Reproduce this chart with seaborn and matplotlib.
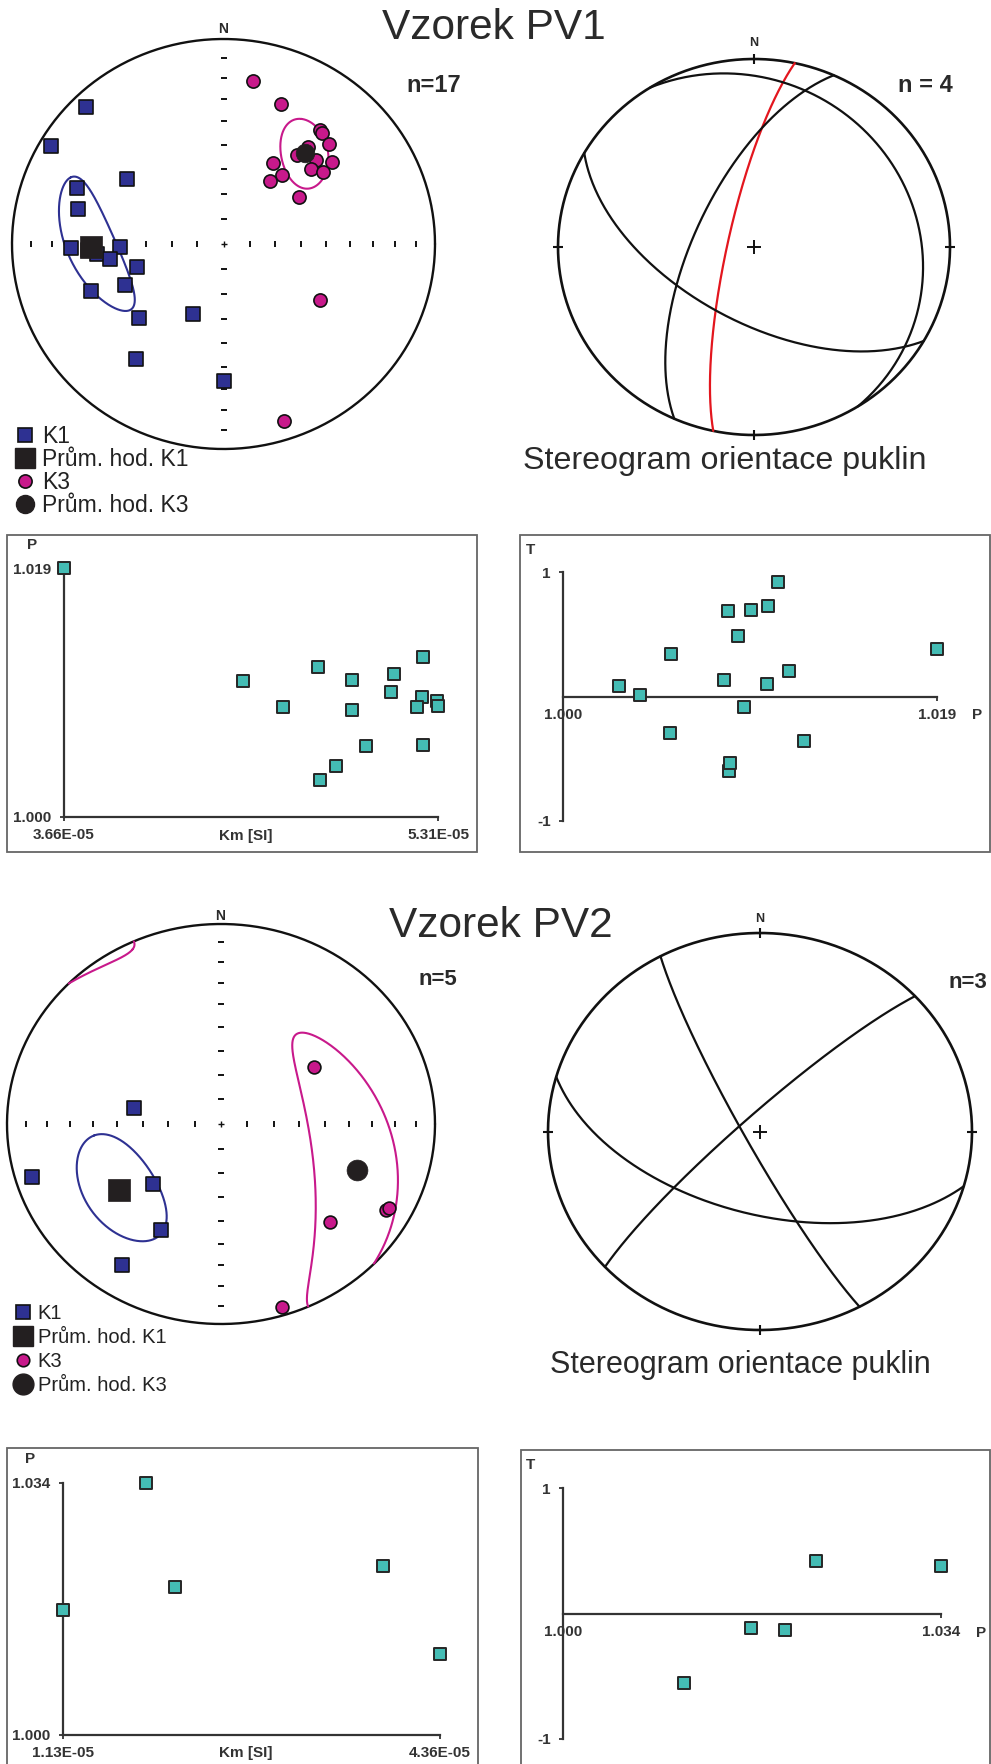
import numpy as np
import pandas as pd
import matplotlib
matplotlib.use("Agg")
import matplotlib.pyplot as plt
from matplotlib.lines import Line2D
from matplotlib.patches import Rectangle
import seaborn as sns

sns.set_theme(style="white")
plt.rcParams["font.family"] = ["Liberation Sans", "DejaVu Sans"]

W, H = 991, 1764

# ---------------------------------------------------------------- data
# Sample PV1 - AMS principal axes of the specimens (trend, plunge in degrees)
pv1_k1_trend = [315.8, 300.4, 304.9, 291.5, 284.0, 268.4, 268.2, 265.3, 262.2,
                254.6, 246.7, 249.9, 227.8, 202.6, 216.3, 179.6, 267.3]
pv1_k1_plunge = [7.6, 6.2, 43.8, 26.6, 30.0, 28.8, 49.6, 39.8, 45.0,
                 55.2, 48.2, 33.8, 45.4, 59.6, 31.0, 33.6, 36.2]
pv1_k3_trend = [10.1, 21.6, 39.3, 40.6, 45.6, 40.1, 38.9, 46.8, 52.0,
                48.4, 53.2, 30.4, 39.2, 35.4, 57.2, 121.0, 161.8]
pv1_k3_plunge = [20.4, 27.4, 29.0, 29.4, 31.0, 38.2, 43.6, 40.0, 35.2,
                 44.2, 41.0, 52.2, 54.2, 59.0, 55.2, 45.8, 10.0]
pv1_k1_mean = (268.6, 37.4)
pv1_k3_mean = (40.9, 41.0)
# confidence cones: (long semi-angle, short semi-angle, orientation of long axis)
pv1_k1_cone = (27, 10, 28)
pv1_k3_cone = (14, 9, 128)

# Sample PV1 - scalar anisotropy parameters of the specimens
pv1_km = [3.660e-5, 4.448e-5, 4.624e-5, 4.781e-5, 4.932e-5, 4.931e-5, 5.116e-5,
          5.104e-5, 5.244e-5, 5.239e-5, 5.217e-5, 5.307e-5, 5.311e-5, 5.244e-5,
          4.991e-5, 4.862e-5, 4.788e-5]
pv1_p = [1.01900, 1.01034, 1.00837, 1.01146, 1.01042, 1.00816, 1.01093, 1.00954,
         1.01224, 1.00918, 1.00843, 1.00888, 1.00850, 1.00547, 1.00543, 1.00389,
         1.00284]
pv1_t = [0.383, 0.101, 0.689, 0.203, 0.723, 0.133, 0.919, 0.694, -0.356, -0.082,
         -0.597, 0.487, -0.538, 0.345, -0.297, 0.009, 0.085]

# Sample PV1 - joint planes (dip direction, dip)
pv1_joint_dipdir = [282, 58, 210, 294]
pv1_joint_dip = [79, 18, 58, 65]

# Sample PV2 - AMS principal axes
pv2_k1_trend = [281.1, 253.3, 226.7, 207.9, 213.3]
pv2_k1_plunge = [55.8, 8.6, 54.0, 39.8, 16.8]
pv2_k3_trend = [56.8, 119.2, 118.1, 133.9, 162.7]
pv2_k3_plunge = [46.8, 12.8, 12.0, 30.0, 4.7]
pv2_k1_mean = (235.3, 41.6)
pv2_k3_mean = (109.9, 32.8)
pv2_k1_cone = (22, 15, -6)
pv2_k3_cone = (56, 17, 32)

# Sample PV2 - scalar anisotropy parameters
pv2_km = [1.13e-5, 1.84e-5, 2.09e-5, 3.87e-5, 4.36e-5]
pv2_p = [1.0169, 1.0340, 1.0200, 1.0228, 1.0109]
pv2_t = [-0.116, 0.381, -0.129, 0.421, -0.556]

# Sample PV2 - joint planes
pv2_joint_dipdir = [242, 196, 317]
pv2_joint_dip = [84, 56, 83]

# ---------------------------------------------------------------- style
BLUE = "#2E3192"
MAG = "#C8198B"
MEAN = "#231F20"
INK = "#111111"
RED = "#E3161E"
TEAL = "#44BCB4"
AXC = "#333333"
TXT = "#2a2a2a"

fig = plt.figure(figsize=(W / 100, H / 100), dpi=100)


def box(x0, y0, x1, y1):
    return [x0 / W, 1 - y1 / H, (x1 - x0) / W, (y1 - y0) / H]


def ftext(x, y, s, **kw):
    fig.text(x / W, 1 - y / H, s, **kw)


def frame(x0, y0, x1, y1):
    fig.add_artist(Rectangle((x0 / W, 1 - y1 / H), (x1 - x0) / W, (y1 - y0) / H,
                             transform=fig.transFigure, fill=False,
                             ec="#666666", lw=1.3))


# ---------------------------------------------------------------- projection
def eq_area(trend, plunge):
    t = np.radians(np.asarray(trend, float))
    r = np.sqrt(2) * np.sin(np.radians(90 - np.asarray(plunge, float)) / 2)
    return r * np.sin(t), r * np.cos(t)


def project(v):
    v = np.where(v[:, 2:3] > 0, -v, v)          # lower hemisphere
    h = np.hypot(v[:, 0], v[:, 1])
    h = np.where(h == 0, 1, h)
    r = np.sqrt(np.clip(1 + v[:, 2], 0, None))
    return r * v[:, 0] / h, r * v[:, 1] / h


def great_circle(dipdir, dip, n=241):
    D, d = np.radians(dipdir), np.radians(dip)
    s = np.array([np.sin(D - np.pi / 2), np.cos(D - np.pi / 2), 0.0])
    dv = np.array([np.cos(d) * np.sin(D), np.cos(d) * np.cos(D), -np.sin(d)])
    t = np.linspace(0, np.pi, n)[:, None]
    return project(np.cos(t) * s + np.sin(t) * dv)


def cone(mean, spec, n=721):
    T, P = np.radians(mean[0]), np.radians(mean[1])
    a, b, w = np.radians(spec[0]), np.radians(spec[1]), np.radians(spec[2])
    v = np.array([np.cos(P) * np.sin(T), np.cos(P) * np.cos(T), -np.sin(P)])
    ut = np.array([np.cos(T), -np.sin(T), 0.0])
    ur = np.array([np.sin(P) * np.sin(T), np.sin(P) * np.cos(T), np.cos(P)])
    e1 = np.cos(w) * ut + np.sin(w) * ur
    e2 = -np.sin(w) * ut + np.cos(w) * ur
    phi = np.linspace(0, 2 * np.pi, n)[:, None]
    pts = v + np.tan(a) * np.cos(phi) * e1 + np.tan(b) * np.sin(phi) * e2
    pts /= np.linalg.norm(pts, axis=1, keepdims=True)
    x, y = project(pts)
    cut = np.where(np.hypot(np.diff(x), np.diff(y)) > 0.4)[0] + 1
    return np.insert(x, cut, np.nan), np.insert(y, cut, np.nan)


# ---------------------------------------------------------------- panels
def ams_net(rect, k1t, k1p, k3t, k3p, k1m, k3m, k1c, k3c, sizes):
    ax = fig.add_axes(box(*rect))
    ax.set_xlim(-1, 1)
    ax.set_ylim(-1, 1)
    ax.axis("off")
    th = np.linspace(0, 2 * np.pi, 500)
    ax.plot(np.cos(th), np.sin(th), color=INK, lw=1.7, clip_on=False)
    rr = np.sqrt(2) * np.sin(np.radians(90 - np.arange(10, 90, 10)) / 2)
    z = np.zeros(2 * len(rr))
    ax.plot(np.r_[-rr, rr], z, ls="none", marker="|", ms=4, mew=1.4, color=INK)
    ax.plot(z, np.r_[-rr, rr], ls="none", marker="_", ms=4, mew=1.4, color=INK)
    ax.plot(0, 0, marker="+", ms=4, mew=1.0, color=INK)

    # confidence cones sit beneath the symbols
    cx, cy = cone(k1m, k1c)
    ax.plot(cx, cy, color=BLUE, lw=1.5, zorder=2.5, clip_on=False)
    cx, cy = cone(k3m, k3c)
    ax.plot(cx, cy, color=MAG, lw=1.5, zorder=2.5, clip_on=False)

    x, y = eq_area(k1t, k1p)
    sns.scatterplot(data=pd.DataFrame({"x": x, "y": y}), x="x", y="y", marker="s",
                    s=sizes[0], color=BLUE, edgecolor=INK, linewidth=1.2, ax=ax,
                    zorder=3, legend=False, clip_on=False)
    x, y = eq_area([k1m[0]], [k1m[1]])
    sns.scatterplot(x=x, y=y, marker="s", s=sizes[1], color=MEAN, edgecolor=MEAN,
                    linewidth=0.5, ax=ax, zorder=4, legend=False)
    x, y = eq_area(k3t, k3p)
    sns.scatterplot(data=pd.DataFrame({"x": x, "y": y}), x="x", y="y", marker="o",
                    s=sizes[2], color=MAG, edgecolor=INK, linewidth=1.2, ax=ax,
                    zorder=3, legend=False, clip_on=False)
    x, y = eq_area([k3m[0]], [k3m[1]])
    sns.scatterplot(x=x, y=y, marker="o", s=sizes[3], color=MEAN, edgecolor=MEAN,
                    linewidth=0.5, ax=ax, zorder=4, legend=False)
    ax.set_xlabel("")
    ax.set_ylabel("")
    return ax


def joint_net(rect, dipdir, dip, colors):
    ax = fig.add_axes(box(*rect))
    ax.set_xlim(-1, 1)
    ax.set_ylim(-1, 1)
    ax.axis("off")
    th = np.linspace(0, 2 * np.pi, 500)
    ax.plot(np.cos(th), np.sin(th), color=INK, lw=1.9, clip_on=False)
    for dd, dp, c in zip(dipdir, dip, colors):
        x, y = great_circle(dd, dp)
        ax.plot(x, y, color=c, lw=1.6, clip_on=False)
    ax.plot([0, 0], [1, -1], ls="none", marker="|", ms=7, mew=1.5, color=INK,
            clip_on=False)
    ax.plot([1, -1], [0, 0], ls="none", marker="_", ms=7, mew=1.5, color=INK,
            clip_on=False)
    ax.plot(0, 0, marker="+", ms=10, mew=1.4, color=INK)
    return ax


def scatter_panel(rect, xs, ys, xlim, ylim, xt, xtl, yt, ytl, zero_axis=False):
    ax = fig.add_axes(box(*rect))
    ax.set_facecolor("none")
    sns.scatterplot(data=pd.DataFrame({"x": xs, "y": ys}), x="x", y="y", marker="s",
                    s=64, color=TEAL, edgecolor="#262626", linewidth=1.4, ax=ax,
                    zorder=5, legend=False, clip_on=False)
    ax.set_xlim(xlim)
    ax.set_ylim(ylim)
    ax.grid(False)
    for s in ("top", "right"):
        ax.spines[s].set_visible(False)
    for s in ("left", "bottom"):
        ax.spines[s].set_color(AXC)
        ax.spines[s].set_linewidth(1.6)
    if zero_axis:
        ax.spines["bottom"].set_position(("data", 0))
    ax.set_xticks(xt, xtl)
    ax.set_yticks(yt, ytl)
    ax.tick_params(axis="both", direction="out", length=3, width=1.3, color=AXC,
                   labelsize=11, labelcolor="#333333", bottom=True, left=True)
    ax.tick_params(axis="x", pad=5)
    ax.tick_params(axis="y", pad=6)
    for lab in ax.get_xticklabels() + ax.get_yticklabels():
        lab.set_fontweight("bold")
    ax.set_xlabel("")
    ax.set_ylabel("")
    return ax


def legend(x, y, fs, spacing, sizes):
    handles = [
        Line2D([], [], ls="none", marker="s", ms=sizes[0], mfc=BLUE, mec=INK, mew=1.2,
               label="K1"),
        Line2D([], [], ls="none", marker="s", ms=sizes[1], mfc=MEAN, mec=MEAN,
               label="Prům. hod. K1"),
        Line2D([], [], ls="none", marker="o", ms=sizes[2], mfc=MAG, mec=INK, mew=1.2,
               label="K3"),
        Line2D([], [], ls="none", marker="o", ms=sizes[3], mfc=MEAN, mec=MEAN,
               label="Prům. hod. K3"),
    ]
    leg = fig.legend(handles=handles, loc="upper left",
                     bbox_to_anchor=(x / W, 1 - y / H), frameon=False, fontsize=fs,
                     handlelength=0.8, handletextpad=0.33, labelspacing=spacing,
                     borderpad=0, borderaxespad=0)
    for t in leg.get_texts():
        t.set_color("#222222")


# ---------------------------------------------------------------- sample PV1
ftext(494, 28, "Vzorek PV1", ha="center", va="center", fontsize=30.5, color=TXT)

ams_net((12, 39, 435, 449), pv1_k1_trend, pv1_k1_plunge, pv1_k3_trend, pv1_k3_plunge,
        pv1_k1_mean, pv1_k3_mean, pv1_k1_cone, pv1_k3_cone, (100, 230, 90, 180))
ftext(223, 29, "N", ha="center", va="center", fontsize=10, fontweight="bold", color=TXT)
ftext(434, 86, "n=17", ha="center", va="center", fontsize=17, fontweight="bold", color=TXT)
legend(16, 425, 16.5, 0.0, (10, 15, 9.5, 13))

joint_net((558, 59, 950, 435), pv1_joint_dipdir, pv1_joint_dip,
          [RED, INK, INK, INK])
ftext(754, 43, "N", ha="center", va="center", fontsize=9, fontweight="bold", color=TXT)
ftext(925, 86, "n = 4", ha="center", va="center", fontsize=17, fontweight="bold", color=TXT)
ftext(725, 461, "Stereogram orientace puklin", ha="center", va="center", fontsize=23.2,
      color=TXT)

frame(7, 535, 477, 852)
scatter_panel((64, 568, 438, 817), pv1_km, pv1_p, (3.66e-5, 5.31e-5), (1.000, 1.019),
              [3.66e-5, 5.31e-5], ["3.66E-05", "5.31E-05"],
              [1.000, 1.019], ["1.000", "1.019"])
ftext(32, 545, "P", ha="center", va="center", fontsize=11, fontweight="bold", color=AXC)
ftext(246, 836, "Km [SI]", ha="center", va="center", fontsize=11, fontweight="bold",
      color=AXC)

frame(520, 535, 990, 852)
scatter_panel((563, 572, 937, 821), pv1_p, pv1_t, (1.000, 1.019), (-1, 1),
              [1.000, 1.019], ["1.000", "1.019"], [-1, 1], ["-1", "1"], zero_axis=True)
ftext(530, 550, "T", ha="center", va="center", fontsize=11, fontweight="bold", color=AXC)
ftext(977, 715, "P", ha="center", va="center", fontsize=11, fontweight="bold", color=AXC)

# ---------------------------------------------------------------- sample PV2
ftext(501, 926, "Vzorek PV2", ha="center", va="center", fontsize=30.5, color=TXT)

ams_net((7, 924, 435, 1324), pv2_k1_trend, pv2_k1_plunge, pv2_k3_trend, pv2_k3_plunge,
        pv2_k1_mean, pv2_k3_mean, pv2_k1_cone, pv2_k3_cone, (90, 230, 85, 225))
ftext(220, 916, "N", ha="center", va="center", fontsize=10, fontweight="bold", color=TXT)
ftext(438, 979, "n=5", ha="center", va="center", fontsize=16, fontweight="bold", color=TXT)
legend(15, 1304, 14.5, 0.25, (9.5, 15, 9, 15))

joint_net((548, 933, 972, 1330), pv2_joint_dipdir, pv2_joint_dip, [INK, INK, INK])
ftext(760, 919, "N", ha="center", va="center", fontsize=9, fontweight="bold", color=TXT)
ftext(968, 982, "n=3", ha="center", va="center", fontsize=16, fontweight="bold", color=TXT)
ftext(740, 1365, "Stereogram orientace puklin", ha="center", va="center", fontsize=22,
      color=TXT)

frame(7, 1448, 478, 1775)
scatter_panel((63, 1483, 440, 1735), pv2_km, pv2_p, (1.13e-5, 4.36e-5), (1.000, 1.034),
              [1.13e-5, 4.36e-5], ["1.13E-05", "4.36E-05"],
              [1.000, 1.034], ["1.000", "1.034"])
ftext(30, 1459, "P", ha="center", va="center", fontsize=11, fontweight="bold", color=AXC)
ftext(246, 1753, "Km [SI]", ha="center", va="center", fontsize=11, fontweight="bold",
      color=AXC)

frame(521, 1450, 990, 1775)
scatter_panel((563, 1488, 941, 1739), pv2_p, pv2_t, (1.000, 1.034), (-1, 1),
              [1.000, 1.034], ["1.000", "1.034"], [-1, 1], ["-1", "1"], zero_axis=True)
ftext(530, 1465, "T", ha="center", va="center", fontsize=11, fontweight="bold", color=AXC)
ftext(981, 1633, "P", ha="center", va="center", fontsize=11, fontweight="bold", color=AXC)

fig.savefig("out.png", dpi=100, facecolor="white")
